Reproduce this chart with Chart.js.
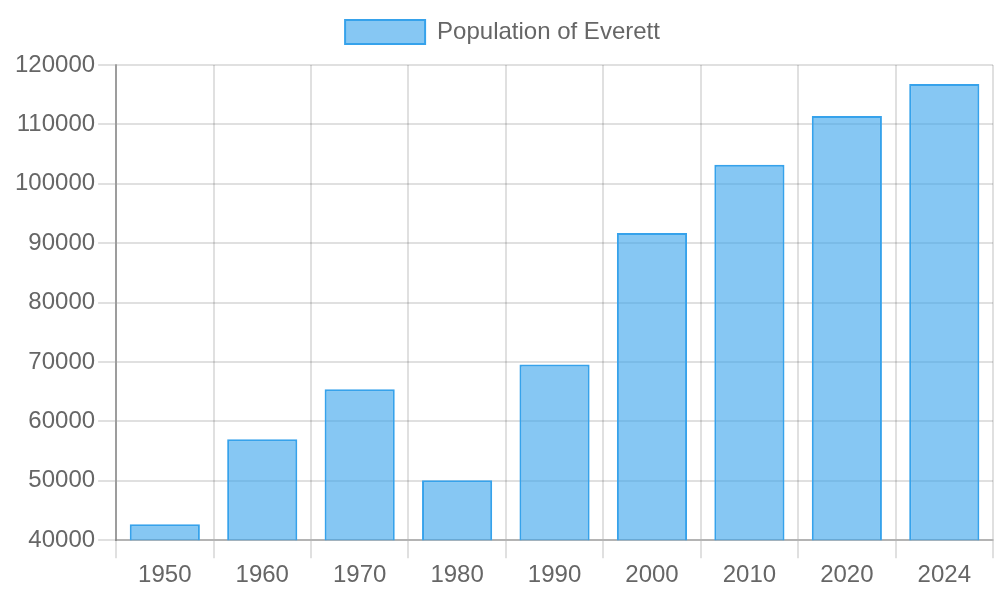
<!DOCTYPE html>
<html>
<head>
<meta charset="utf-8">
<script src="https://cdn.jsdelivr.net/npm/chart.js@4"></script>
<style>
  html, body { margin: 0; padding: 0; background: #fff; }
  #wrap { width: 1000px; height: 600px; }
</style>
</head>
<body>
<div id="wrap"><canvas id="PopulationChart"></canvas></div>
<script>
// data
var years = ['1950', '1960', '1970', '1980', '1990', '2000', '2010', '2020', '2024'];
var population = [42700, 57000, 65400, 50100, 69600, 91700, 103200, 111400, 116800];
var seriesLabel = 'Population of Everett';

Chart.defaults.font.family = "'Liberation Sans', Arial, sans-serif";
Chart.defaults.font.size = 24;
Chart.defaults.color = '#666';

// a bit more room under the legend
var legendGap = {
    id: 'legendGap',
    beforeInit: function (chart) {
        var fit = chart.legend.fit;
        chart.legend.fit = function () {
            fit.call(this);
            this.height += 11;
        };
    }
};

var ctx = document.getElementById('PopulationChart');

var chart = new Chart(ctx, {
    type: 'bar',
    plugins: [legendGap],
    data: {
        labels: years,
        datasets: [{
            label: seriesLabel,
            data: population,
            backgroundColor: 'rgba(54, 162, 235, 0.6)',
            borderColor: 'rgb(54, 162, 235)',
            borderWidth: 2
        }]
    },
    options: {
        responsive: true,
        maintainAspectRatio: false,
        animation: false,
        layout: {
            padding: { top: 0, right: 7, left: 12, bottom: 7 }
        },
        plugins: {
            legend: {
                labels: {
                    boxWidth: 80,
                    padding: 20
                }
            },
            tooltip: { enabled: false }
        },
        scales: {
            x: {
                grid: { tickLength: 18, lineWidth: 2, color: 'rgba(0,0,0,0.12)' },
                border: { color: 'rgba(0,0,0,0.2)', width: 2 }
            },
            y: {
                min: 40000,
                max: 120000,
                ticks: {
                    stepSize: 10000,
                    // plain numbers, no thousands separator
                    callback: function (value) { return String(value); }
                },
                grid: { tickLength: 18, lineWidth: 2, color: 'rgba(0,0,0,0.12)' },
                border: { color: 'rgba(0,0,0,0.3)', width: 2 }
            }
        }
    }
});
</script>
</body>
</html>
